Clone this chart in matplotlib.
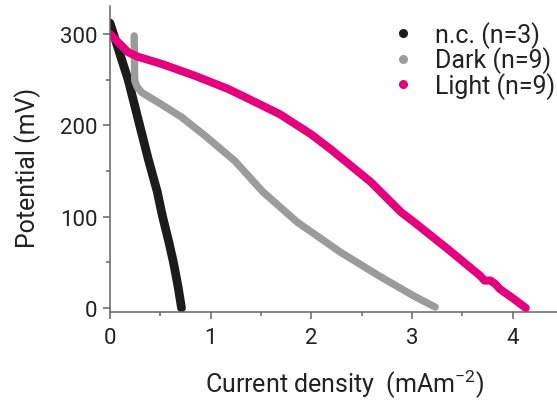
import matplotlib
matplotlib.use('Agg')
import matplotlib.pyplot as plt
from matplotlib.lines import Line2D

plt.rcParams['font.family'] = ['Roboto', 'DejaVu Sans']
plt.rcParams['mathtext.fontset'] = 'custom'
plt.rcParams['mathtext.rm'] = 'Roboto'
plt.rcParams['mathtext.it'] = 'Roboto'

# n.c. (no cells) curve
nc_x = [0.0, 0.18, 0.38, 0.47, 0.52, 0.585, 0.63, 0.675, 0.71]
nc_y = [312, 250, 163, 127, 101, 72, 50, 24, 0]

# dark curve
dark_x = [0.24, 0.245, 0.27, 0.315, 0.51, 0.71, 0.94, 1.24, 1.52, 1.86, 2.29, 2.69, 3.02, 3.23]
dark_y = [298, 249, 242, 236, 223, 209, 189, 161, 127, 94, 61, 34, 13, 1]

# light curve
light_x = [0.0, 0.08, 0.18, 0.28, 0.52, 0.85, 1.17, 1.34, 1.69, 2.0, 2.19, 2.59, 2.69, 2.89,
           3.02, 3.35, 3.68, 3.72, 3.78, 3.83, 3.87, 3.92, 4.01, 4.13]
light_y = [300, 291, 280, 275, 267, 254, 240, 231, 212, 190, 174, 138, 127, 105,
           94, 65, 35, 30, 30, 26, 21, 17, 10, 0]

labels = ['n.c. (n=3)', 'Dark (n=9)', 'Light (n=9)']
colors = ['#1c1c1c', '#9b9b9b', '#e5007d']
txt_color = '#222222'

fig = plt.figure(figsize=(5.57, 4.02), dpi=100)
ax = fig.add_axes([0.1975, 0.2214, 0.8025, 0.7612])

ax.plot(nc_x, nc_y, color=colors[0], lw=6.3, solid_capstyle='round', solid_joinstyle='round')
ax.plot(dark_x, dark_y, color=colors[1], lw=5.3, solid_capstyle='round', solid_joinstyle='round')
ax.plot(light_x, light_y, color=colors[2], lw=5.8, solid_capstyle='round', solid_joinstyle='round')

ax.set_xlim(0, 4.44)
ax.set_ylim(-4.4, 330.7)
ax.set_xticks([0, 1, 2, 3, 4])
ax.set_xticks([0.5, 1.5, 2.5, 3.5], minor=True)
ax.set_yticks([0, 100, 200, 300])
ax.set_yticks([50, 150, 250], minor=True)

for s in ['top', 'right']:
    ax.spines[s].set_visible(False)
for s in ['left', 'bottom']:
    ax.spines[s].set_color('#666666')
    ax.spines[s].set_linewidth(1.1)

ax.tick_params(which='major', length=5, width=1.1, color='#666666', labelsize=16,
               labelcolor=txt_color)
ax.tick_params(axis='x', which='major', pad=6)
ax.tick_params(axis='y', which='major', pad=4)
ax.tick_params(which='minor', length=3, width=1.1, color='#666666')

ax.set_xlabel('Current density  (mAm$^{-2}$)', fontsize=18, color=txt_color)
ax.set_ylabel('Potential (mV)', fontsize=18, color=txt_color)
ax.xaxis.label.set_va('baseline')
ax.yaxis.label.set_va('baseline')
ax.xaxis.set_label_coords(0.526, -0.262)
ax.yaxis.set_label_coords(-0.168, 0.474)

handles = [Line2D([], [], ls='none', marker='o', ms=5.5, color=c) for c in colors]
ax.legend(handles, labels, loc='upper right', bbox_to_anchor=(1.03, 1.0), frameon=False,
          fontsize=18, handlelength=0.8, handletextpad=0.9, labelspacing=-0.05,
          labelcolor=txt_color, borderaxespad=0.2)

fig.savefig('out.png', dpi=100)
